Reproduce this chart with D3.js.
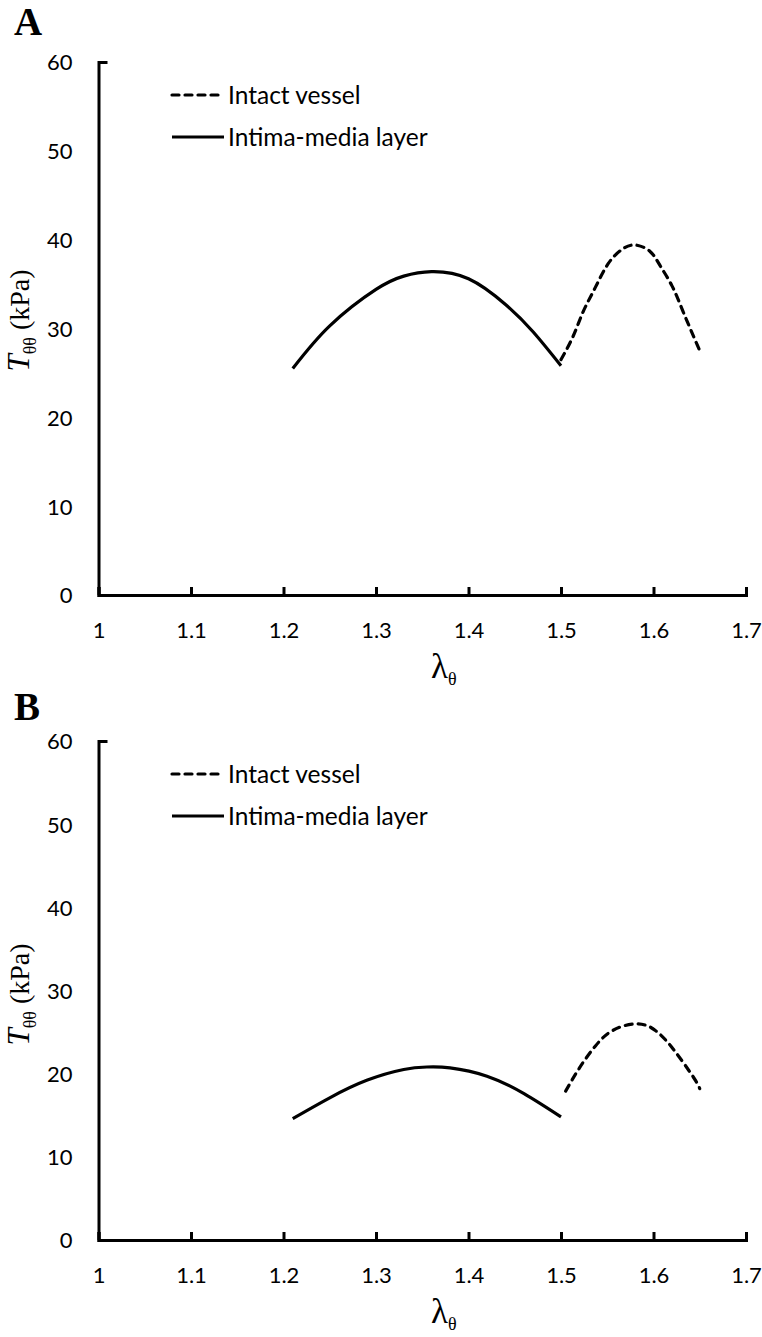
<!DOCTYPE html>
<html>
<head>
<meta charset="utf-8">
<script src="https://cdn.jsdelivr.net/npm/d3@7"></script>
<style>
	body { margin: 0; background: #fff; }
	svg { display: block; }
	.tick text, .legend text { font-family: Lato, "Open Sans", sans-serif; fill: #000; }
	.serif { font-family: "Liberation Serif", "DejaVu Serif", serif; fill: #000; }
</style>
</head>
<body>
<svg id="chart" width="762" height="1337"></svg>
<script>
var xTicks = [1, 1.1, 1.2, 1.3, 1.4, 1.5, 1.6, 1.7];
var yTicks = [0, 10, 20, 30, 40, 50, 60];
var legendNames = ['Intact vessel', 'Intima-media layer'];

// panel A
var intimaLamA = [1.21, 1.25, 1.30, 1.33, 1.36, 1.40, 1.44, 1.47, 1.5];
var intimaTA   = [25.5, 30.3, 34.4, 35.9, 36.4, 35.6, 32.7, 29.6, 25.8];
var vesselLamA = [1.5, 1.513, 1.524, 1.537, 1.551, 1.566, 1.58, 1.596, 1.607, 1.62, 1.632, 1.65];
var vesselTA   = [26.5, 29.1, 31.9, 34.6, 37.3, 38.9, 39.4, 38.7, 37.1, 34.8, 31.9, 27.5];

// panel B
var intimaLamB = [1.21, 1.25, 1.29, 1.33, 1.355, 1.38, 1.42, 1.46, 1.5];
var intimaTB   = [14.6, 17.1, 19.2, 20.5, 20.8, 20.7, 19.7, 17.6, 14.8];
var vesselLamB = [1.505, 1.52, 1.537, 1.556, 1.582, 1.602, 1.621, 1.643, 1.65];
var vesselTB   = [17.9, 20.7, 23.3, 25.2, 26.0, 25.2, 23.0, 19.6, 18.2];

var svg = d3.select('#chart');

var x = d3.scaleLinear().domain([1, 1.7]).range([98.5, 746]);

function zip(a, b) {
	return a.map(function(v, i) { return [v, b[i]]; });
}

function drawPanel(label, labelY, top, bottom, titleShift, intima, vessel) {
	var y = d3.scaleLinear().domain([0, 60]).range([bottom, top]);
	var g = svg.append('g');

	// panel letter
	g.append('text')
		.attr('class', 'serif')
		.attr('x', 14)
		.attr('y', labelY)
		.style('font-size', '39px')
		.style('font-weight', 'bold')
		.text(label);

	var xAxis = g.append('g')
		.attr('transform', 'translate(0,' + bottom + ')')
		.call(d3.axisBottom(x).tickValues(xTicks).tickSizeInner(-8).tickSizeOuter(-8)
			.tickFormat(function(d) { return d3.format('')(d); }));
	xAxis.selectAll('text').attr('y', 43).attr('dy', 0).style('font-size', '22px');

	var yAxis = g.append('g')
		.attr('transform', 'translate(' + x(1) + ',0)')
		.call(d3.axisLeft(y).tickValues(yTicks).tickSizeInner(0).tickSizeOuter(-9).tickPadding(26));
	yAxis.selectAll('text').attr('dy', '0.36em').style('font-size', '22px');

	g.selectAll('.domain, .tick line')
		.attr('stroke', '#000')
		.attr('stroke-width', 3);

	// axis titles
	var yt = g.append('text')
		.attr('class', 'serif')
		.attr('transform', 'translate(29,' + ((top + bottom) / 2 + titleShift) + ') rotate(-90)')
		.attr('text-anchor', 'middle')
		.style('font-size', '28px');
	yt.append('tspan').style('font-style', 'italic').style('font-size', '31px').text('T');
	yt.append('tspan').attr('dy', 7).style('font-size', '18px').text('θθ');
	yt.append('tspan').attr('dy', -7).text(' (kPa)');

	var xt = g.append('text')
		.attr('class', 'serif')
		.attr('x', 431)
		.attr('y', bottom + 83)
		.style('font-size', '35px');
	xt.append('tspan').text('λ');
	xt.append('tspan').attr('dy', 7).style('font-size', '18px').text('θ');

	var line = d3.line()
		.x(function(d) { return x(d[0]); })
		.y(function(d) { return y(d[1]); })
		.curve(d3.curveNatural);

	g.append('path')
		.datum(intima)
		.attr('d', line)
		.attr('fill', 'none')
		.attr('stroke', '#000')
		.attr('stroke-width', 3.2);

	g.append('path')
		.datum(vessel)
		.attr('d', line)
		.attr('fill', 'none')
		.attr('stroke', '#000')
		.attr('stroke-width', 3.2)
		.attr('stroke-linecap', 'round')
		.attr('stroke-dasharray', '7,6');

	// legend
	var leg = g.append('g').attr('class', 'legend');
	legendNames.forEach(function(name, i) {
		var ly = top + 33 + i * 42;
		leg.append('line')
			.attr('x1', 172).attr('x2', 224)
			.attr('y1', ly).attr('y2', ly)
			.attr('stroke', '#000')
			.attr('stroke-width', 3.2)
			.attr('stroke-linecap', i == 0 ? 'round' : 'butt')
			.attr('stroke-dasharray', i == 0 ? '7,6' : null);
		leg.append('text')
			.attr('x', 228)
			.attr('y', ly)
			.attr('dy', '0.35em')
			.style('font-size', '24.5px')
			.text(name);
	});
}

drawPanel('A', 35, 62, 595, -8, zip(intimaLamA, intimaTA), zip(vesselLamA, vesselTA));
drawPanel('B', 720, 741, 1240, 4, zip(intimaLamB, intimaTB), zip(vesselLamB, vesselTB));
</script>
</body>
</html>
